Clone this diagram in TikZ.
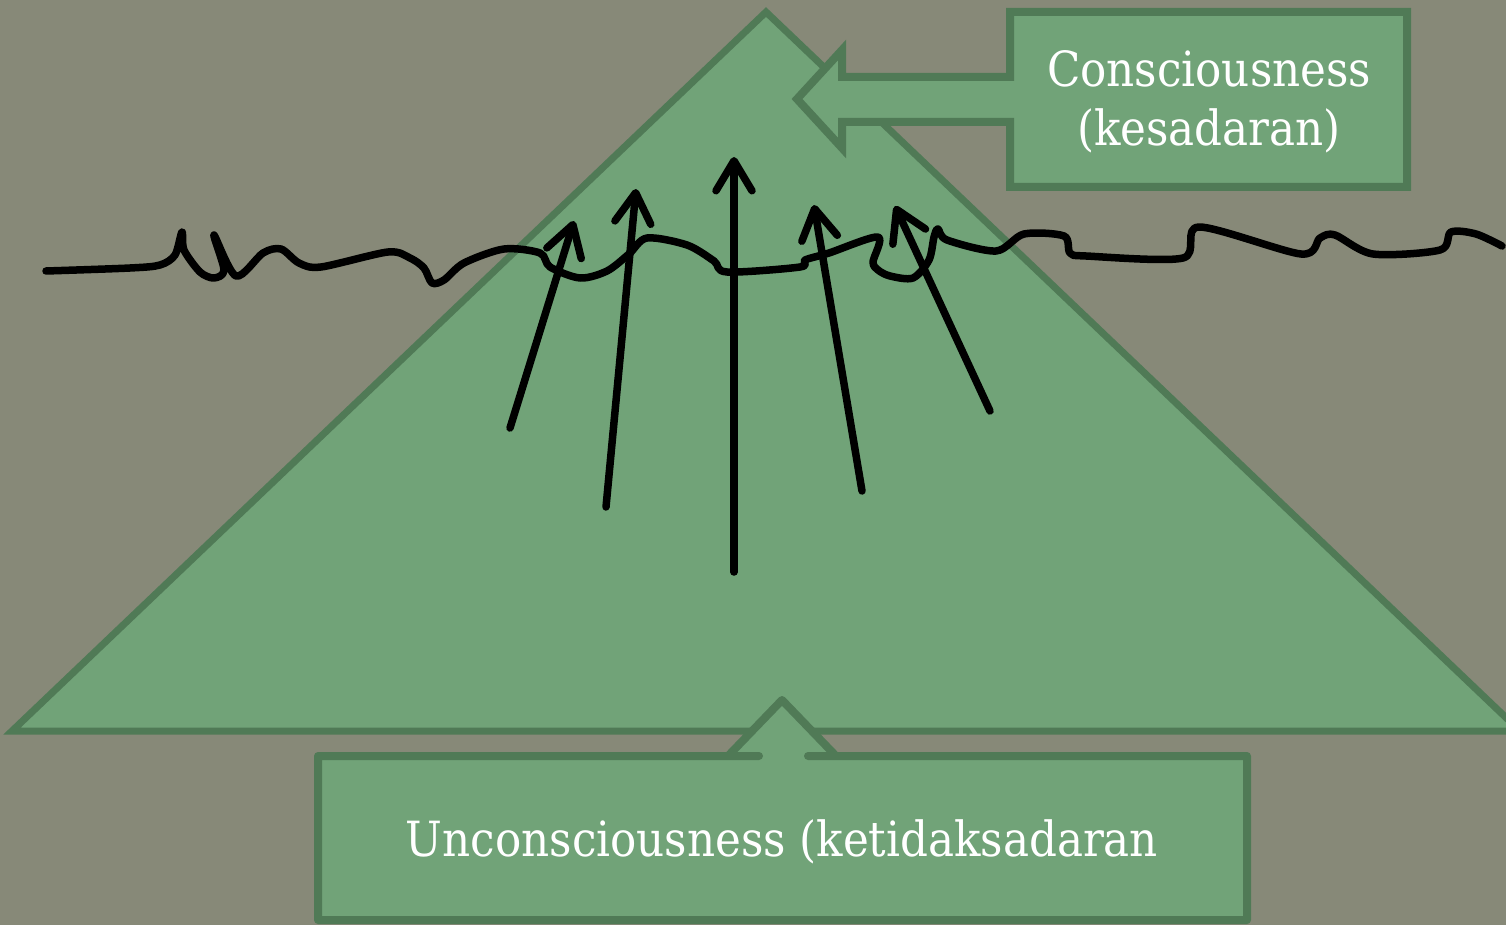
\documentclass[tikz,border=0pt]{standalone}
\usepackage{fontspec}
\setmainfont{DejaVu Serif Condensed}
\usetikzlibrary{arrows.meta}
\definecolor{bg}{RGB}{135,137,120}
\definecolor{gfill}{RGB}{113,163,120}
\definecolor{gedge}{RGB}{80,122,86}
\begin{document}
\begin{tikzpicture}[x=1pt,y=-1pt,
  shapebox/.style={fill=gfill, draw=gedge, line width=8pt},
  txt/.style={text=white, font=\fontsize{48.5}{59}\selectfont, align=center, inner sep=0pt},
  uparrow/.style={draw=black, line width=7.5pt, line cap=round,
    -{Straight Barb[length=30pt,width=36pt,round]}},
  wave/.style={draw=black, line width=7.5pt, line cap=round, line join=round}]
\useasboundingbox (0,0) rectangle (1506,925);
\fill[bg] (0,0) rectangle (1506,925);
% pyramid
\filldraw[fill=gfill, draw=gedge, line width=7pt] (12,731) -- (766,12) -- (1520,731) -- cycle;
% top callout
\filldraw[shapebox, line join=miter] (1010,12) -- (1407,12) -- (1407,187) -- (1010,187) -- (1010,122)
  -- (842,122) -- (842,148) -- (797,99) -- (842,50) -- (842,77) -- (1010,77) -- cycle;
\node[txt] (ctext) at (1209,102) {Consciousness\\(kesadaran)};
% bottom callout
\filldraw[shapebox, line join=round] (318,756) -- (759,756) -- (728,756) -- (782,700) -- (836,756)
  -- (808,756) -- (1247,756) -- (1247,920) -- (318,920) -- cycle;
\node[txt] (utext) at (782,842) {Unconsciousness (ketidaksadaran};
% wavy surface line
\draw[wave] plot[smooth, tension=0.5] coordinates {(46,271) (130,268) (160,265) (175,255) (182,232) (184,250) (200,272) (214,278) (224,270) (214,235) (236,276) (263,253) (281,249) (299,263) (321,267) (388,252) (410,258) (424,268) (432,283) (444,280) (464,263) (504,249) (540,253) (550,267) (580,278) (607,271) (629,254) (647,238) (687,245) (714,261) (727,272) (800,267) (805,260) (829,253) (878,237) (873,262) (878,270) (890,276) (913,278) (929,260) (934,237) (938,229) (947,240) (996,251) (1024,234) (1064,236) (1070,253) (1086,256) (1183,258) (1199,227) (1301,254) (1320,238) (1335,235) (1373,254) (1440,250) (1451,232) (1476,234) (1502,246)};
% arrows
\coordinate (a1s) at (510,428); \coordinate (a1e) at (574,221);
\coordinate (a2s) at (606,507); \coordinate (a2e) at (636,189);
\coordinate (a3s) at (734,572); \coordinate (a3e) at (734,157);
\coordinate (a4s) at (862,491); \coordinate (a4e) at (814,205);
\coordinate (a5s) at (990,411); \coordinate (a5e) at (895,206);
\draw[uparrow] (a1s) -- (a1e);
\draw[uparrow] (a2s) -- (a2e);
\draw[uparrow] (a3s) -- (a3e);
\draw[uparrow] (a4s) -- (a4e);
\draw[uparrow] (a5s) -- (a5e);
\end{tikzpicture}
\end{document}
